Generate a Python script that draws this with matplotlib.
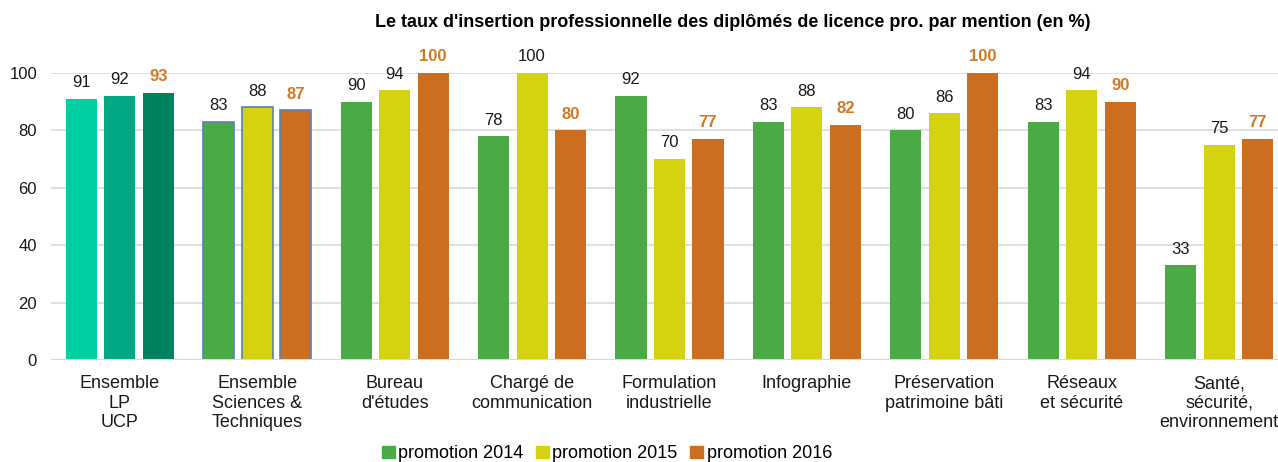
import matplotlib.pyplot as plt
import numpy as np

plt.rcParams['font.family'] = ['Liberation Sans', 'DejaVu Sans']

# Données
mentions = ['Ensemble\nLP\nUCP', 'Ensemble\nSciences &\nTechniques', 'Bureau\nd\'études',
            'Chargé de\ncommunication', 'Formulation\nindustrielle', 'Infographie',
            'Préservation\npatrimoine bâti', 'Réseaux\net sécurité',
            'Santé,\nsécurité,\nenvironnement']
promo_2014 = [91, 83, 90, 78, 92, 83, 80, 83, 33]
promo_2015 = [92, 88, 94, 100, 70, 88, 86, 94, 75]
promo_2016 = [93, 87, 100, 80, 77, 82, 100, 90, 77]
legende = ['promotion 2014', 'promotion 2015', 'promotion 2016']

c14, c15, c16 = '#4aaa46', '#d5d210', '#cc6e1f'
c_ucp = ['#00cfa2', '#00a984', '#00825f']

fig = plt.figure(figsize=(12.78, 4.62), dpi=100)
ax = fig.add_axes([51/1278, 1 - 360/462, 1237/1278, 287/462])

x = np.arange(len(mentions))
w = 0.226
dx = 0.28
series = [promo_2014, promo_2015, promo_2016]
cols = [c14, c15, c16]
for k, (vals, col) in enumerate(zip(series, cols)):
    fc = [col] * len(vals)
    fc[0] = c_ucp[k]
    ec = ['none'] * len(vals)
    ec[1] = '#5a7fbe'
    ax.bar(x + (k - 1) * dx, vals, w, color=fc, edgecolor=ec, linewidth=1.2,
           label=legende[k], zorder=3)
    for xi, v in zip(x, vals):
        if k == 2:
            ax.text(xi + (k - 1) * dx, v + 3, str(v), ha='center', va='bottom',
                    color='#d07a26', fontsize=12, fontweight='bold', clip_on=False)
        else:
            ax.text(xi + (k - 1) * dx, v + 3, str(v), ha='center', va='bottom',
                    color='#1a1a1a', fontsize=12, clip_on=False)

ax.set_xlim(-0.5, 8.5)
ax.set_ylim(0, 100)
ax.set_yticks(range(0, 101, 20))
ax.yaxis.grid(True, color='#d9d9d9', linewidth=1.2, zorder=0)
for s in ax.spines.values():
    s.set_visible(False)
ax.axhline(0, color='#d9d9d9', linewidth=1.5, zorder=4)
ax.tick_params(axis='both', length=0, colors='#1a1a1a')
ax.tick_params(axis='y', pad=10, labelsize=12)
ax.tick_params(axis='x', pad=11, labelsize=13)
ax.set_xticks(x)
ax.set_xticklabels(mentions, linespacing=1.2)

fig.text(0.573, 0.952, "Le taux d'insertion professionnelle des diplômés de licence pro. par mention (en %)",
         ha='center', va='center', fontsize=13, fontweight='bold',
         family=['Liberation Sans Narrow', 'Liberation Sans'])

handles = [plt.Rectangle((0, 0), 1, 1, color=c) for c in cols]
fig.legend(handles, legende, loc='center', bbox_to_anchor=(0.475, 0.018), ncol=3,
           frameon=False, fontsize=13, handlelength=0.7, handleheight=0.7,
           handletextpad=0.2, columnspacing=0.7)

fig.savefig('out.png', dpi=100)
